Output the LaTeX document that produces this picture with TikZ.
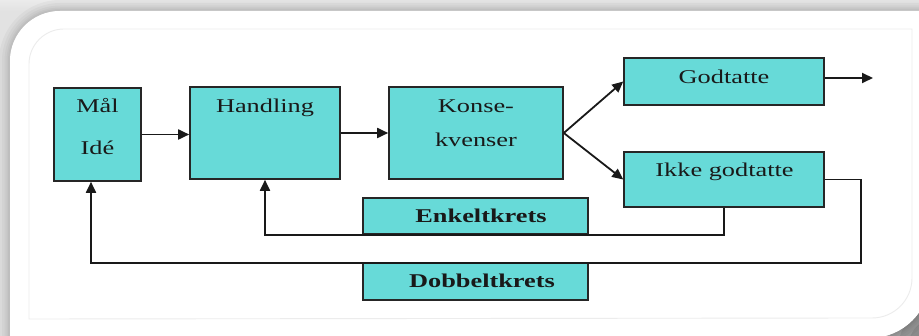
\documentclass[tikz,border=0pt]{standalone}
\usepackage{fontspec}
\setmainfont{Liberation Serif}[FakeStretch=1.35]
\usetikzlibrary{arrows.meta}

\definecolor{boxfill}{RGB}{103,218,216}
\definecolor{pagegray}{RGB}{226,226,226}
\definecolor{rimgray}{RGB}{236,236,236}
\definecolor{inkline}{RGB}{25,25,25}

\tikzset{
  boxnode/.style={draw=black!85, line width=1.6pt, fill=boxfill, inner sep=0pt},
  lbl/.style={anchor=base, inner sep=0pt, text=black!90,
              font=\fontsize{19.5pt}{23pt}\selectfont},
  lblb/.style={lbl, font=\fontsize{19.5pt}{23pt}\selectfont\bfseries},
  conn/.style={draw=inkline, line width=1.8pt},
  arr/.style={conn, -{Triangle[length=11pt,width=10pt]}},
}

% outline of the white card
\newcommand\cardshape{(10,345) -- (10,61) .. controls (10,33.4) and (32.4,11) .. (60,11)
  -- (945,11) -- (945,278) -- (930,278) .. controls (930,311.1) and (903.1,338) .. (870,338)
  -- (10,338) -- cycle}

\begin{document}
\begin{tikzpicture}[x=1pt, y=-1pt]
  \useasboundingbox (0,0) rectangle (919,336);

  % page behind the card
  \fill[pagegray] (0,0) rectangle (919,336);
  \fill[top color=pagegray!70, bottom color=pagegray] (0,0) rectangle (919,11);

  % shadow, kept outside the card
  \begin{scope}[even odd rule]
    \clip (-5,-5) rectangle (925,341) \cardshape;
    \foreach \w in {22,16,11,7,4}
      \draw[black, opacity=0.03, line width=\w pt, line join=round] \cardshape;
    \foreach \r in {70,58,46,36,26}
      \fill[black, opacity=0.09] (935,345) circle (\r);
  \end{scope}

  % the card
  \fill[white] \cardshape;

  % thin rim inside the card
  \draw[rimgray, line width=0.9pt] (29,319) -- (29,64) .. controls (29,44.7) and (44.7,29) .. (64,29)
    -- (912,29) -- (912,278) .. controls (912,300.1) and (894.1,318) .. (872,318) -- cycle;

  % boxes
  \node[boxnode, minimum width=87pt,  minimum height=93pt] (mal)  at (97.5,134.5) {};
  \node[boxnode, minimum width=150pt, minimum height=92pt] (hand) at (265,133) {};
  \node[boxnode, minimum width=174pt, minimum height=92pt] (kons) at (476,133) {};
  \node[boxnode, minimum width=200pt, minimum height=47pt] (god)  at (724,81.5) {};
  \node[boxnode, minimum width=200pt, minimum height=55pt] (ikke) at (724,179.5) {};
  \node[boxnode, minimum width=225pt, minimum height=36pt] (enk)  at (475.5,216) {};
  \node[boxnode, minimum width=225pt, minimum height=37pt] (dob)  at (475.5,281.5) {};

  % box texts
  \node[lbl]  (malA)  at (97.5,113) {Mål};
  \node[lbl]  (malB)  at (97.5,155) {Idé};
  \node[lbl]  (handT) at (265,113) {Handling};
  \node[lbl]  (konsA) at (476,113) {Konse-};
  \node[lbl]  (konsB) at (476,147) {kvenser};
  \node[lbl]  (godT)  at (724,84) {Godtatte};
  \node[lbl]  (ikkeT) at (724.5,177) {Ikke godtatte};
  \node[lblb] (enkT)  at (481,223) {Enkeltkrets};
  \node[lblb] (dobT)  at (482,288) {Dobbeltkrets};

  % forward flow
  \coordinate (out) at (873,78);
  \draw[arr] (mal.east) -- (mal.east -| hand.west);
  \draw[arr] (hand.east) -- (hand.east -| kons.west);
  \draw[arr] (kons.east) -- (god.west);
  \draw[arr] (kons.east) -- (ikke.west);
  \draw[arr] ([yshift=3.5pt]god.east) -- (out);

  % single loop
  \draw[arr] (ikke.south) |- (enk.south) -| (hand.south);

  % double loop
  \coordinate (dobR) at (861,263);
  \coordinate (dobL) at (91,263);
  \draw[arr] (ikke.east) -| (dobR) -- (dobL) -- (dobL |- mal.south);
\end{tikzpicture}
\end{document}
